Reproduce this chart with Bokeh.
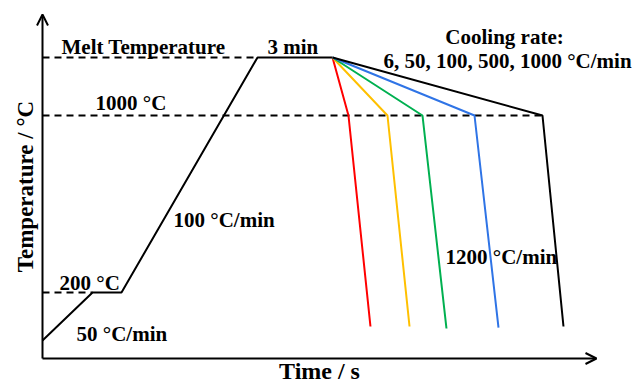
import math
from bokeh.plotting import figure
from bokeh.models import Range1d, Label, Arrow, OpenHead
from bokeh.embed import file_html
from bokeh.resources import INLINE

# Schematic units: time 0..100 along x-axis, temperature 0..100 along y-axis
T_MELT = 87.5
T_1000 = 70.64
T_200 = 19.19

# Heating path
heat_time = [0.0, 9.03, 14.26, 38.81, 52.35]
heat_temp = [5.23, T_200, T_200, T_MELT, T_MELT]

# Cooling paths (rates 6, 50, 100, 500, 1000 C/min, then 1200 C/min)
cool_colors = ["#ff0000", "#ffc000", "#00b050", "#2f74e6", "#000000"]
cool_knee_time = [55.23, 62.27, 68.59, 77.98, 90.25]
cool_end_time = [59.20, 66.25, 72.92, 82.31, 94.04]
cool_end_temp = [9.3, 9.3, 8.72, 9.0, 9.3]

# px per unit
SX, SY = 5.54, 3.44
W, H = 637, 384
OX, OY = 42, 26  # canvas offset of the origin (from left, from bottom)

p = figure(width=W, height=H, output_backend="svg", toolbar_location=None,
           x_range=Range1d(-OX / SX, (W - OX) / SX),
           y_range=Range1d(-OY / SY, (H - OY) / SY),
           min_border=0)
p.axis.visible = False
p.grid.visible = False
p.outline_line_color = None
p.background_fill_color = "white"
p.border_fill_color = "white"

dash = "7 5"
p.line([0, heat_time[3]], [T_MELT, T_MELT], line_color="black", line_width=2, line_dash=dash)
p.line([0, cool_knee_time[-1]], [T_1000, T_1000], line_color="black", line_width=2, line_dash=dash)
p.line([0, heat_time[1]], [T_200, T_200], line_color="black", line_width=2, line_dash=dash)

p.line(heat_time, heat_temp, line_color="black", line_width=2)

for c, kt, et, eT in zip(cool_colors, cool_knee_time, cool_end_time, cool_end_temp):
    p.line([heat_time[-1], kt, et], [T_MELT, T_1000, eT], line_color=c, line_width=2)

p.add_layout(Arrow(end=OpenHead(size=11, line_width=2), x_start=0, y_start=0, x_end=0, y_end=100,
                   line_width=2))
p.add_layout(Arrow(end=OpenHead(size=11, line_width=2), x_start=0, y_start=0, x_end=100, y_end=0,
                   line_width=2))

FONT = "Liberation Serif"
SHIFT = 6  # baseline correction in px

def X(px):
    return (px - OX) / SX

def Y(py):
    return (H - OY - py) / SY

def lab(text, px, py, size="21px", align="left", baseline="alphabetic", angle=0.0):
    if baseline == "alphabetic":
        py = py - SHIFT
    p.add_layout(Label(x=X(px), y=Y(py), text=text, text_font=FONT, text_font_style="bold",
                       text_font_size=size, text_align=align, text_baseline=baseline,
                       text_color="black", angle=angle))

lab("Melt Temperature", 61, 52)
lab("3 min", 267, 52)
lab("1000 \u00b0C", 95, 108)
lab("Cooling rate:", 504, 42, align="center")
lab("6, 50, 100, 500, 1000 \u00b0C/min", 507, 66, align="center")
lab("100 \u00b0C/min", 173, 225)
lab("1200 \u00b0C/min", 445, 262)
lab("200 \u00b0C", 59, 288)
lab("50 \u00b0C/min", 76, 339)
lab("Time / s", 319, 376, size="24px", align="center")
lab("Temperature / \u00b0C", 25, 186, size="23px", align="center", baseline="middle",
    angle=math.pi / 2)

open("out.html", "w").write(file_html(p, INLINE))
